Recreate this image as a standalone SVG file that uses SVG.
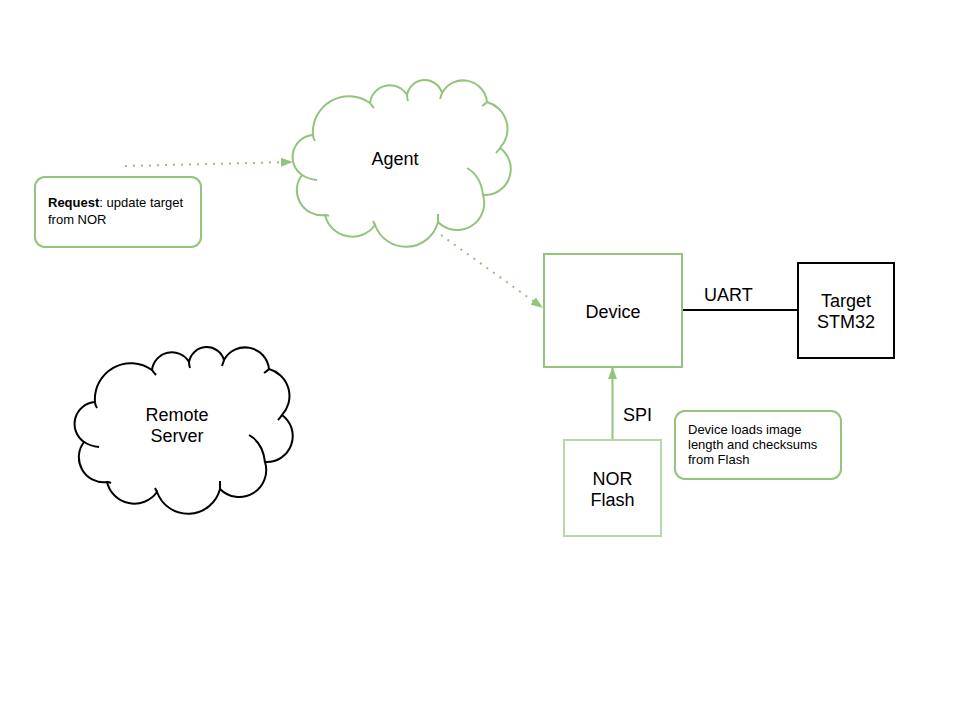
<svg xmlns="http://www.w3.org/2000/svg" xmlns:xlink="http://www.w3.org/1999/xlink" width="960" height="720" viewBox="0 0 960 720">
  <style>
    text { font-family: "Liberation Sans", Arial, sans-serif; fill: #000; }
    .big { font-size: 18px; text-anchor: middle; }
    .small { font-size: 13px; }
    .green { fill: #fff; stroke: #93c47d; stroke-width: 2; }
    .light { fill: #fff; stroke: #b6d7a8; stroke-width: 2; }
    .black { fill: #fff; stroke: #000; stroke-width: 2; }
    .tail { fill: none; stroke-width: 2; }
    .dotted { fill: none; stroke: #93c47d; stroke-width: 2; stroke-dasharray: 2 6; }
    .solidg { fill: none; stroke: #93c47d; stroke-width: 2; }
  </style>
  <defs>
    <path id="cloud" d="M20,57 A36,36 0 0,1 77,25 A20,20 0 0,1 114,17 A18,18 0 0,1 149,15 A24,24 0 0,1 194,24 A28,28 0 0,1 207,70 A26,26 0 0,1 190,117 A27,27 0 0,1 145,144 A33,33 0 0,1 82,147 A28,28 0 0,1 32,137 A25,25 0 0,1 9,97 A22,22 0 0,1 20,57 Z"/>
    <path id="tails" d="M20,57 Q20,60 22,63 M9,97 Q15,101 24,102 M77,25 Q79,28 81,30 M114,17 Q114,20 115,23 M149,15 Q148,18 147,21 M194,24 Q192,26 189,28 M207,70 Q205,73 203,75 M174,90 Q188,98 190,117 M145,144 Q145,140 145,136 M82,147 Q81,145 80,143 M32,137 Q34,137 36,138"/>
    <marker id="arrow" viewBox="0 0 12 9" refX="12" refY="4.5" markerWidth="12" markerHeight="9" markerUnits="userSpaceOnUse" orient="auto">
      <path d="M0,0 L12,4.5 L0,9 Z" fill="#93c47d"/>
    </marker>
  </defs>
  <rect width="960" height="720" fill="#fff"/>

  <g id="connectors">
    <line class="dotted" x1="125" y1="166" x2="293" y2="162" marker-end="url(#arrow)"/>
    <line class="dotted" x1="441" y1="235" x2="543" y2="308" marker-end="url(#arrow)"/>
    <line class="solidg" x1="612.5" y1="440" x2="612.5" y2="367" marker-end="url(#arrow)"/>
    <line x1="682" y1="310" x2="798" y2="310" stroke="#000" stroke-width="2"/>
    <text x="704" y="301" style="font-size:18px">UART</text>
    <text x="623" y="421" style="font-size:18px">SPI</text>
  </g>

  <g id="agent">
    <g transform="translate(293,78)">
      <use xlink:href="#cloud" class="green"/>
      <use xlink:href="#tails" class="tail" stroke="#93c47d"/>
    </g>
    <text class="big" x="395" y="165">Agent</text>
  </g>

  <g id="remote-server">
    <g transform="translate(75,345)">
      <use xlink:href="#cloud" class="black"/>
      <use xlink:href="#tails" class="tail" stroke="#000"/>
    </g>
    <text class="big" x="177" y="421">Remote</text>
    <text class="big" x="177" y="442">Server</text>
  </g>

  <g id="request">
    <rect class="green" x="35" y="177" width="166" height="70" rx="10" ry="10"/>
    <text class="small" x="48" y="207"><tspan font-weight="bold">Request</tspan>: update target</text>
    <text class="small" x="48" y="224">from NOR</text>
  </g>

  <g id="device">
    <rect class="green" x="544" y="254" width="138" height="113"/>
    <text class="big" x="613" y="318">Device</text>
  </g>

  <g id="target">
    <rect class="black" x="798" y="263" width="96" height="95"/>
    <text class="big" x="846" y="307">Target</text>
    <text class="big" x="846" y="328">STM32</text>
  </g>

  <g id="nor-flash">
    <rect class="light" x="564" y="440" width="97" height="96"/>
    <text class="big" x="612.5" y="485">NOR</text>
    <text class="big" x="612.5" y="506">Flash</text>
  </g>

  <g id="note">
    <rect class="green" x="675" y="411" width="166" height="68" rx="10" ry="10"/>
    <text class="small" x="688" y="434">Device loads image</text>
    <text class="small" x="688" y="449">length and checksums</text>
    <text class="small" x="688" y="464">from Flash</text>
  </g>
</svg>
